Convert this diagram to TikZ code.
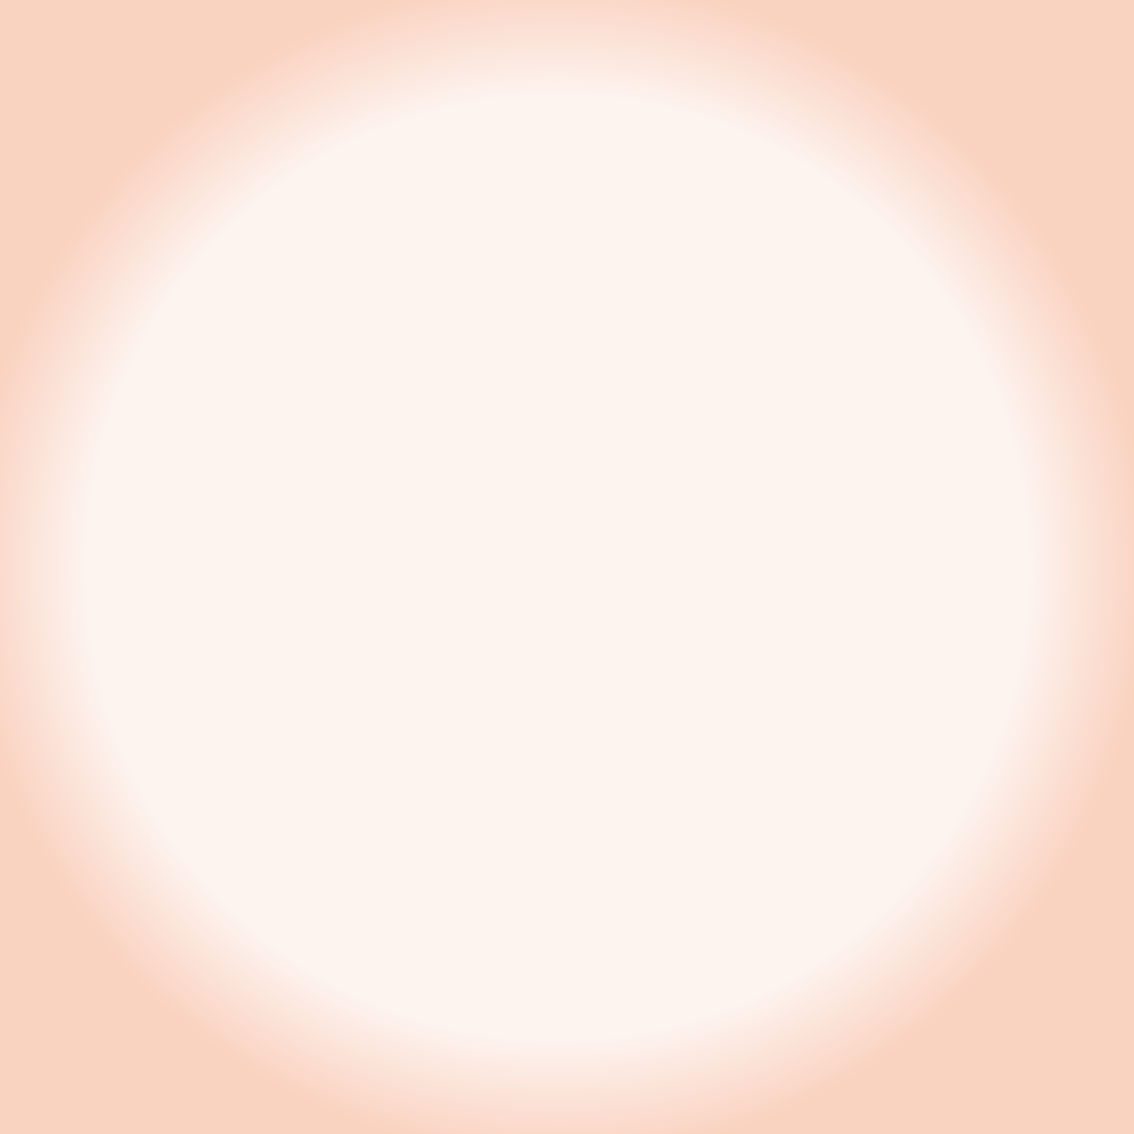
\documentclass[tikz,border=0pt]{standalone}
\usepackage{fontspec}
\setmainfont{Poppins}
\usetikzlibrary{decorations.text,calc}
\definecolor{band}{HTML}{FDDCBF}
\definecolor{ttl}{HTML}{E0521F}
\definecolor{dotc}{HTML}{E2521F}
\definecolor{navy}{HTML}{1B2A4A}
\definecolor{axisc}{HTML}{F7A68B}
\definecolor{lightc}{HTML}{FDF3EF}
\definecolor{darkc}{HTML}{FAD2C0}
\pgfdeclareradialshading{ringsh}{\pgfpoint{0bp}{0bp}}{color(0bp)=(lightc); color(20bp)=(lightc); color(25bp)=(darkc); color(50bp)=(darkc)}
\tikzset{
  dotn/.style={circle,fill=dotc,inner sep=0pt,minimum size=20pt},
  lab/.style={text=navy,font=\fontsize{18.5}{23}\selectfont,align=center,inner sep=0pt},
  tlab/.style={text=ttl,font=\fontsize{15}{16}\selectfont,inner sep=0pt},
  ttext/.style={decorate,decoration={text along path,text align=center,
     text={|\fontsize{26}{28}\bfseries\color{ttl}|#1}}},
}
\begin{document}
\begin{tikzpicture}[x=1pt,y=1pt]
\useasboundingbox (0,0) rectangle (1133,1134);
\coordinate (c) at (557,567);
% bands
\foreach \xa/\ya/\xb/\yb in {0/593/534/1134, 585/593/1133/1134, 0/0/534/540, 585/0/1133/540}{
  \begin{scope}
    \clip (\xa,\ya) rectangle (\xb,\yb);
    \fill[band,even odd rule] (c) circle (545) (c) circle (472);
  \end{scope}}
% titles
\path[ttext={Regulation as cost and constraint}] ($(c)+(170:499)$) arc (170:100:499);
\path[ttext={Regulation as market enabler}] ($(c)+(80:499)$) arc (80:10:499);
\path[ttext={Regulation reshaping market structure}] ($(c)+(188:517)$) arc (188:262:517);
\path[ttext={Regulation forcing new operating models}] ($(c)+(278:517)$) arc (278:352:517);
% discs
\shade[shading=ringsh] ($(c)+(-590,-590)$) rectangle ($(c)+(590,590)$) ;
\begin{scope}
\clip (c) circle (417);
\end{scope}
\end{tikzpicture}
\end{document}
